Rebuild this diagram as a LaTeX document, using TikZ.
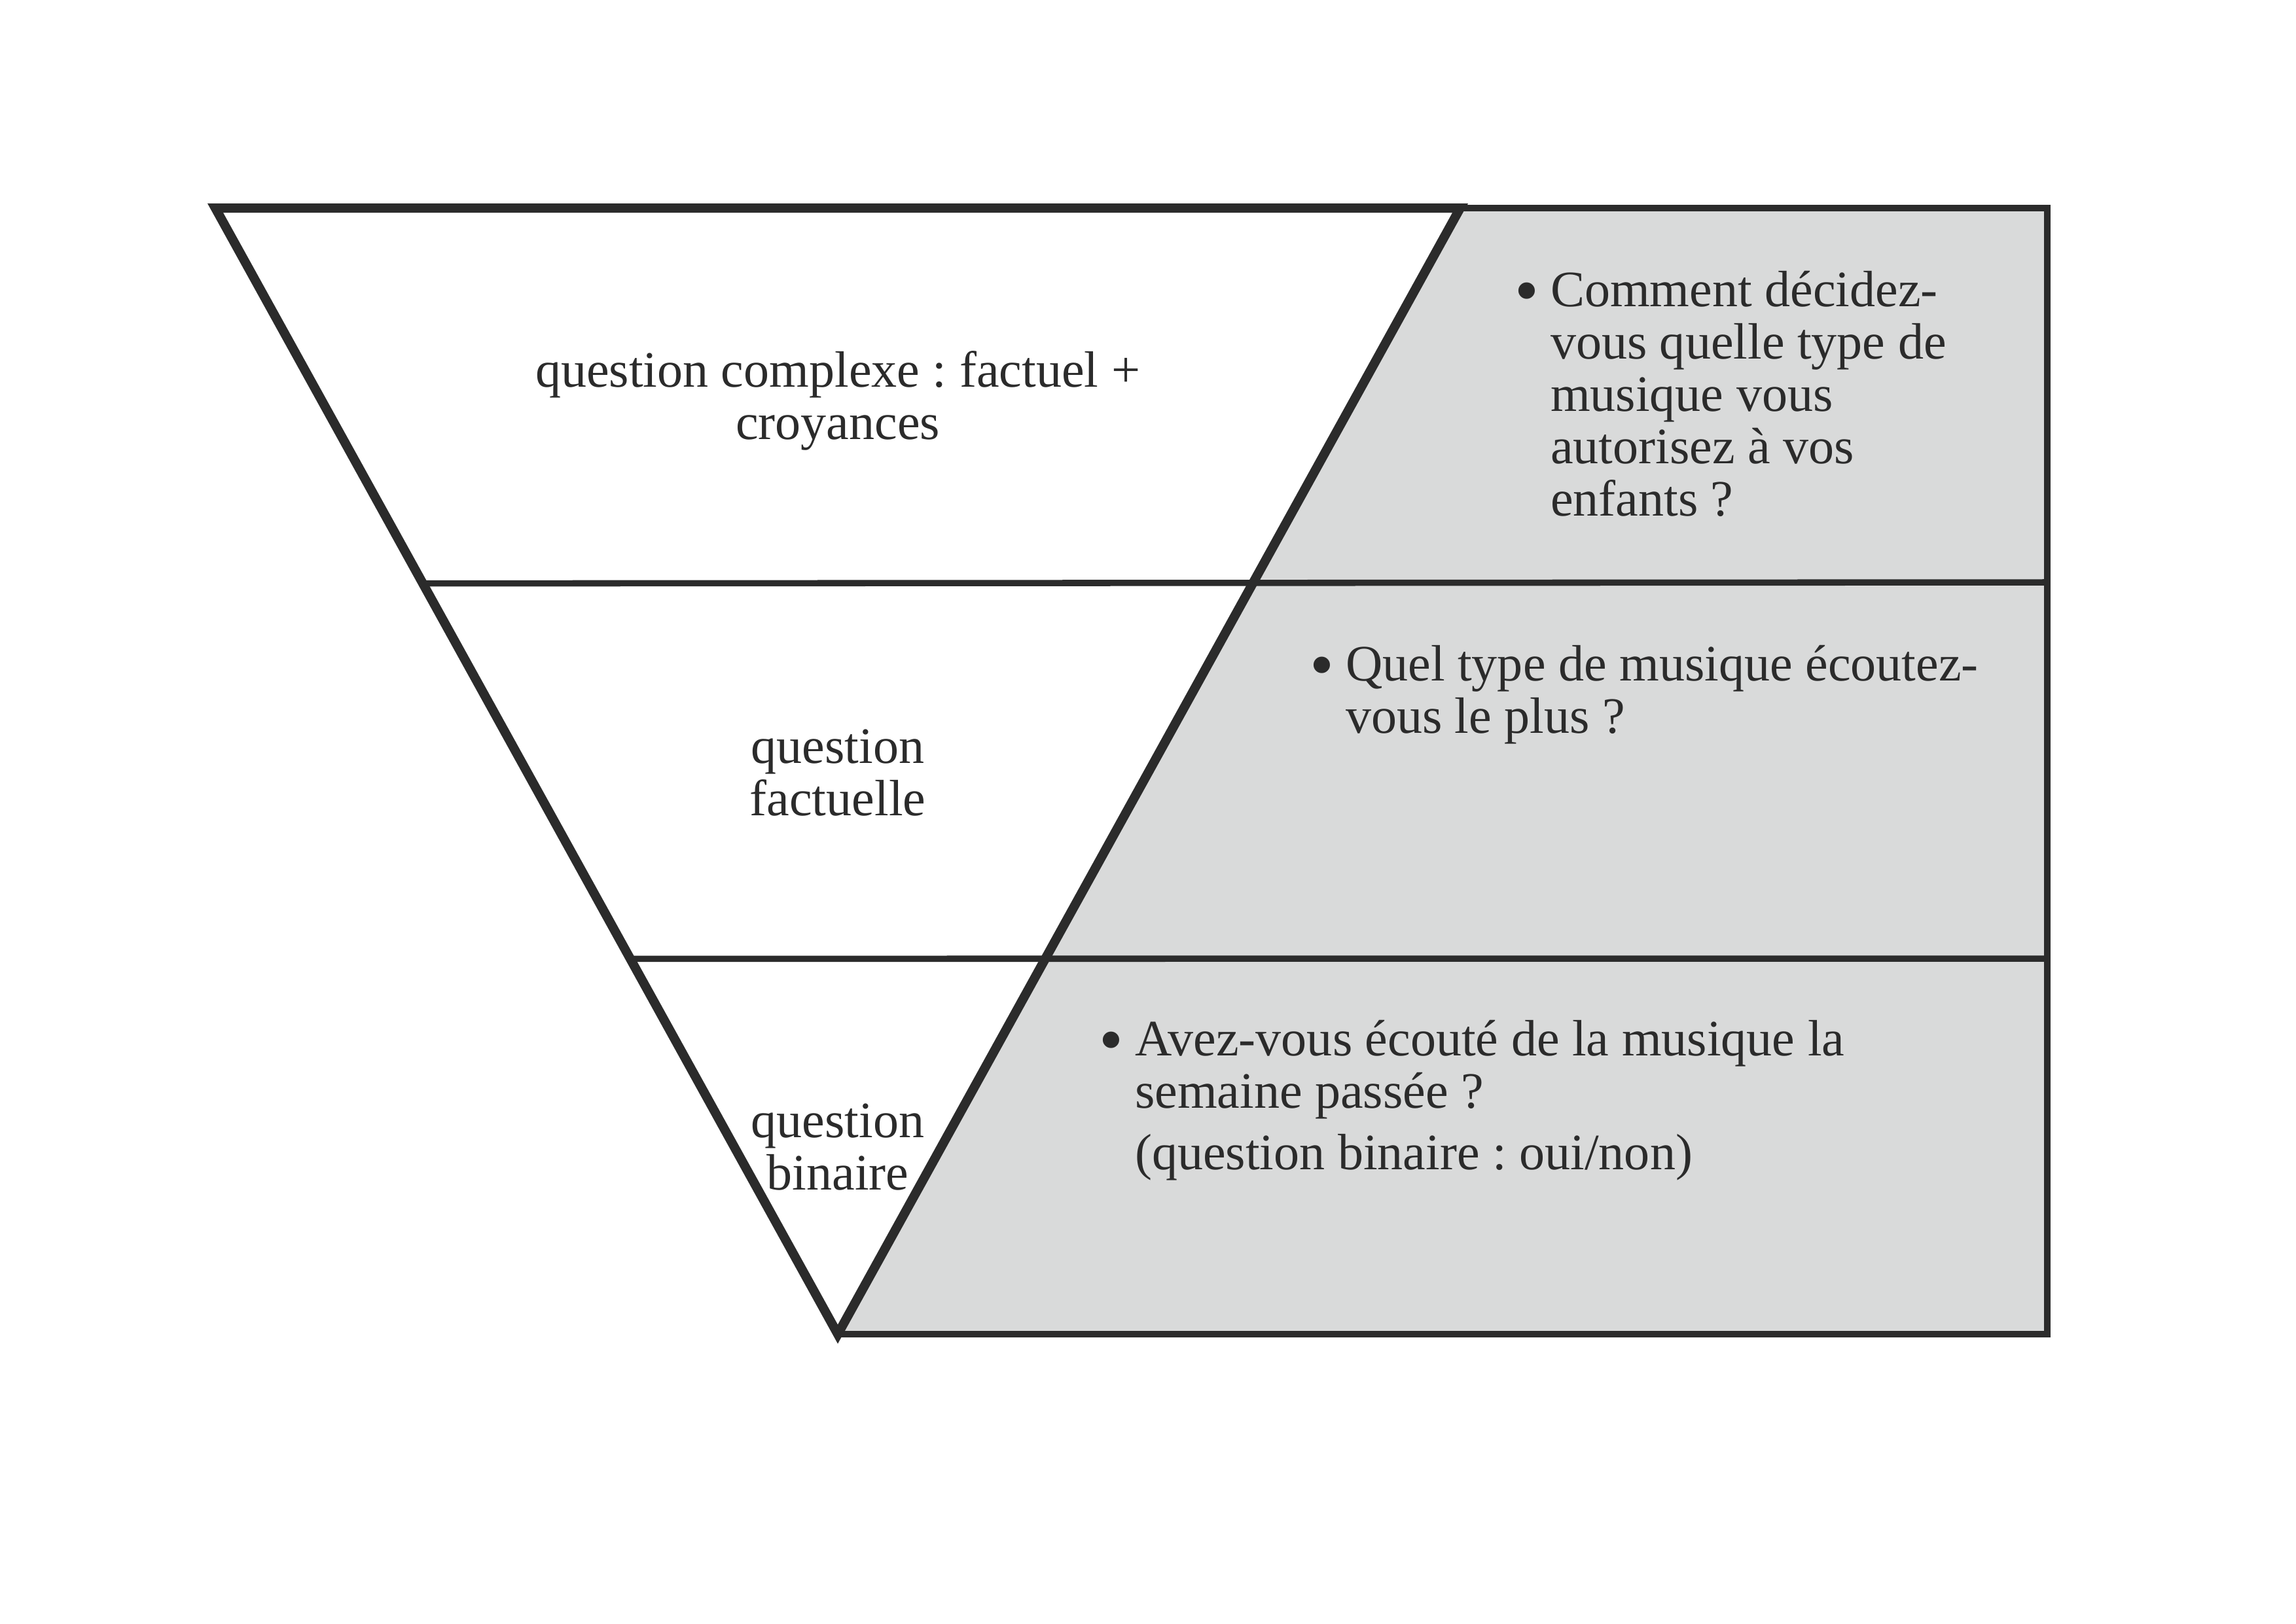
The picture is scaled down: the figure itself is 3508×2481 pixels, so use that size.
\documentclass[tikz,border=0pt]{standalone}
\usepackage{fontspec}
\usepackage{graphicx}
\setmainfont{Liberation Serif}
\usetikzlibrary{calc}
\frenchspacing
\definecolor{ink}{HTML}{2B2B2B}
\definecolor{panel}{RGB}{217,218,218}
\newcommand\twoc[2]{\vtop{\baselineskip=19.27pt\hbox to 0pt{\hss#1\hss}\hbox to 0pt{\hss#2\hss}}}
\newcommand\bul{\llap{\raisebox{-2.8pt}{\scalebox{1.35}{\textbullet}}\hspace{4.2pt}}}
\tikzset{
  tri/.style={draw=ink, line width=3.4pt, line join=miter},
  sep/.style={draw=ink, line width=2.3pt},
  lbl/.style={inner sep=0pt, outer sep=0pt, text=ink, font=\fontsize{18.8pt}{19.27pt}\selectfont},
}
\begin{document}
\begin{tikzpicture}[x=0.24088pt, y=-0.24088pt]
\useasboundingbox (0,0) rectangle (3508,2481);
\coordinate (A) at (329,318);
\coordinate (B) at (2231,318);
\coordinate (C) at (1280,2039);
\coordinate (D) at (3128,318);
\coordinate (E) at (3128,2039);
\coordinate (L1) at ($(A)!1/3!(C)$);
\coordinate (L2) at ($(A)!2/3!(C)$);
\coordinate (R1) at (3128,890);
\coordinate (R2) at (3128,1465);
% grey panel
\fill[panel] (B) -- (D) -- (E) -- (C) -- cycle;
\draw[sep] (B) -- (D) -- (E) -- (C);
\draw[sep] (L1) -- (R1);
\draw[sep] (L2) -- (R2);
% triangle
\draw[tri] (A) -- (B) -- (C) -- cycle;
% left labels
\node[lbl, anchor=base] (t1) at (1280,591) {\twoc{question complexe : factuel +}{croyances}};
\node[lbl, anchor=base] (t2) at (1280,1166) {\twoc{question}{factuelle}};
\node[lbl, anchor=base] (t3) at (1280,1738) {\twoc{question}{binaire}};
% right texts
\node[lbl, anchor=base west] (q1) at (2369,468) {\vtop{\baselineskip=19.27pt
  \hbox{\bul Comment décidez-}
  \hbox{vous quelle type de}
  \hbox{musique vous}
  \hbox{autorisez à vos}
  \hbox{enfants ?}}};
\node[lbl, anchor=base west] (q2) at (2056,1040) {\vtop{\baselineskip=19.27pt
  \hbox{\bul Quel type de musique écoutez-}
  \hbox{vous le plus ?}}};
\node[lbl, anchor=base west] (q3) at (1734,1613) {\vtop{\baselineskip=19.27pt
  \hbox{\bul Avez-vous écouté de la musique la}
  \hbox{semaine passée ?}
  \vskip 3.6pt
  \hbox{(question binaire : oui/non)}}};
\end{tikzpicture}
\end{document}
